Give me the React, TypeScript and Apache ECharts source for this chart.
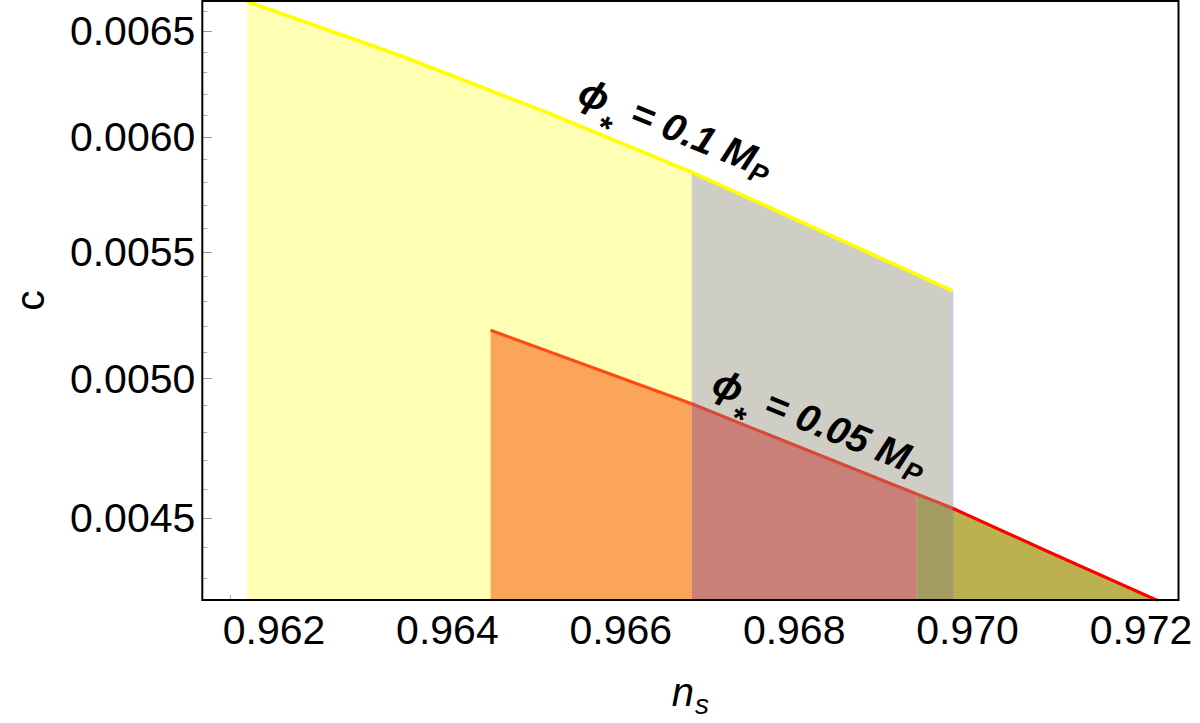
import React, { useEffect, useRef } from "react";
import * as echarts from "echarts";

const FONT = "'Liberation Sans', Arial, Helvetica, sans-serif";

// Axis ranges (n_s linear, c logarithmic)
const X_MIN = 0.961173;
const X_MAX = 0.972433;
const Y_MIN = 0.0042294;
const Y_MAX = 0.006651;

// Tick values
const X_TICKS = [0.962, 0.964, 0.966, 0.968, 0.97, 0.972];
const X_MINOR = [
  0.9615, 0.9625, 0.963, 0.9635, 0.9645, 0.965, 0.9655, 0.9665, 0.967, 0.9675,
  0.9685, 0.969, 0.9695, 0.9705, 0.971, 0.9715,
];
const Y_TICKS = [0.0045, 0.005, 0.0055, 0.006, 0.0065];
const Y_MINOR = [
  0.0043, 0.0044, 0.0046, 0.0047, 0.0048, 0.0049, 0.0051, 0.0052, 0.0053, 0.0054,
  0.0056, 0.0057, 0.0058, 0.0059, 0.0061, 0.0062, 0.0063, 0.0064, 0.0066,
];

// phi_* = 0.1 M_P curve
const NS_HIGH = [0.961689, 0.963453, 0.965183, 0.966818, 0.969828];
const C_HIGH = [0.006649, 0.0063825, 0.0061084, 0.0058442, 0.0053426];

// phi_* = 0.05 M_P curve
const NS_LOW = [0.964499, 0.966818, 0.968067, 0.969413, 0.969828, 0.970912, 0.972196];
const C_LOW = [0.0051857, 0.0049056, 0.0047466, 0.0045821, 0.0045329, 0.0043889, 0.0042273];

// n_s band edges where the shading changes
const BAND_START = 0.966818;
const BAND_SPLIT = 0.969413;
const BAND_END = 0.969828;

// horizontal reference level
const REF_C = 0.0053426;

// curve annotations
const LABEL_NS = [0.966637, 0.968298];
const LABEL_C = [0.0060423, 0.0048352];
const LABEL_VALUES = ["0.1", "0.05"];

const COLORS = {
  yellowFill: "#FFFFB3",
  grayFill: "#CECEC5",
  orangeFill: "#FBA55B",
  rosyFill: "#C98079",
  darkOliveFill: "#A29C5F",
  oliveFill: "#BBB24F",
  yellowLine: "#FFFF00",
  redLineLeft: "#FF4A14",
  redLineMid: "#D8493B",
  redLine: "#FF0000",
};

const pairs = (xs: number[], ys: number[]) => xs.map((x, i) => [x, ys[i]]);
const within = (pts: number[][], lo: number, hi: number) =>
  pts.filter((p) => p[0] >= lo - 1e-9 && p[0] <= hi + 1e-9);

const highPts = pairs(NS_HIGH, C_HIGH);
const lowPts = pairs(NS_LOW, C_LOW);
const lowAtEnd = C_LOW[NS_LOW.indexOf(BAND_END)];
const highAtEnd = C_HIGH[NS_HIGH.indexOf(BAND_END)];

const area = (data: number[][], color: string) => ({
  type: "line",
  data,
  symbol: "none",
  silent: true,
  lineStyle: { width: 0 },
  areaStyle: { color, opacity: 1, origin: "start" },
  z: 1,
});

const line = (data: number[][], color: string, width: number, z = 3) => ({
  type: "line",
  data,
  symbol: "none",
  silent: true,
  lineStyle: { color, width },
  z,
});

const tickLabel = {
  fontSize: 41,
  fontFamily: FONT,
  color: "#000",
};

function buildOption() {
  return {
    animation: false,
    backgroundColor: "#fff",
    grid: {
      left: 202.3,
      right: 21.5,
      top: 1,
      bottom: 118.7,
      show: true,
      borderColor: "#000",
      borderWidth: 2,
      backgroundColor: "transparent",
      z: 10,
    },
    xAxis: [
      {
        type: "value",
        min: X_MIN,
        max: X_MAX,
        position: "bottom",
        name: "{n|n}{s|s}",
        nameLocation: "middle",
        nameGap: 62,
        nameTextStyle: {
          rich: {
            n: { fontSize: 40, fontStyle: "italic", fontFamily: FONT, color: "#000", lineHeight: 60 },
            s: {
              fontSize: 28,
              fontStyle: "italic",
              fontFamily: FONT,
              color: "#000",
              lineHeight: 28,
              verticalAlign: "top",
              padding: [28, 0, 0, 1],
            },
          },
        },
        axisLine: { show: false },
        splitLine: { show: false },
        axisTick: {
          inside: true,
          length: 8,
          customValues: X_TICKS,
          lineStyle: { color: "#999", width: 1 },
        },
        axisLabel: {
          ...tickLabel,
          margin: 9,
          customValues: X_TICKS,
          formatter: (v: number) => v.toFixed(3),
        },
      },
      {
        type: "value",
        min: X_MIN,
        max: X_MAX,
        position: "bottom",
        axisLine: { show: false },
        splitLine: { show: false },
        axisLabel: { show: false },
        axisTick: {
          inside: true,
          length: 5,
          customValues: X_MINOR,
          lineStyle: { color: "#aaa", width: 1 },
        },
      },
    ],
    yAxis: [
      {
        type: "log",
        logBase: 10,
        min: Y_MIN,
        max: Y_MAX,
        position: "left",
        name: "c",
        nameLocation: "middle",
        nameGap: 152,
        nameTextStyle: { fontSize: 41, fontFamily: FONT, color: "#000" },
        axisLine: { show: false },
        splitLine: { show: false },
        axisTick: {
          inside: true,
          length: 10,
          customValues: Y_TICKS,
          lineStyle: { color: "#999", width: 1 },
        },
        axisLabel: {
          ...tickLabel,
          margin: 7,
          customValues: Y_TICKS,
          formatter: (v: number) => v.toFixed(4),
        },
      },
      {
        type: "log",
        logBase: 10,
        min: Y_MIN,
        max: Y_MAX,
        position: "left",
        axisLine: { show: false },
        splitLine: { show: false },
        axisLabel: { show: false },
        axisTick: {
          inside: true,
          length: 5,
          customValues: Y_MINOR,
          lineStyle: { color: "#aaa", width: 1 },
        },
      },
    ],
    series: [
      area(within(highPts, -Infinity, BAND_START), COLORS.yellowFill),
      area(within(highPts, BAND_START, BAND_END), COLORS.grayFill),
      area(within(lowPts, -Infinity, BAND_START), COLORS.orangeFill),
      area(within(lowPts, BAND_START, BAND_SPLIT), COLORS.rosyFill),
      area(within(lowPts, BAND_SPLIT, BAND_END), COLORS.darkOliveFill),
      area(within(lowPts, BAND_END, Infinity), COLORS.oliveFill),
      // edge of the shaded band
      line([[BAND_END, lowAtEnd], [BAND_END, highAtEnd]], "#C8C8F2", 1.5, 2),
      line([[BAND_END, Y_MIN], [BAND_END, lowAtEnd]], "#9C9A82", 1.5, 2),
      {
        ...line(highPts, COLORS.yellowLine, 3.6),
        markLine: {
          silent: true,
          symbol: "none",
          label: { show: false },
          lineStyle: { color: "#A8A8A8", width: 1, type: "solid" },
          data: [{ yAxis: REF_C }],
        },
      },
      line(within(lowPts, -Infinity, BAND_START), COLORS.redLineLeft, 3.2),
      line(within(lowPts, BAND_START, BAND_END), COLORS.redLineMid, 3.2),
      line(within(lowPts, BAND_END, Infinity), COLORS.redLine, 3.2),
    ],
  };
}

const labelRich = {
  m: {
    fontSize: 39,
    fontWeight: "bold",
    fontStyle: "italic",
    fontFamily: FONT,
    lineHeight: 60,
    fill: "#000",
  },
  st: {
    fontSize: 33,
    fontWeight: "bold",
    fontFamily: FONT,
    lineHeight: 12,
    verticalAlign: "top",
    padding: [40, 3, 0, 0],
    fill: "#000",
  },
  sb: {
    fontSize: 27,
    fontWeight: "bold",
    fontStyle: "italic",
    fontFamily: FONT,
    lineHeight: 26,
    verticalAlign: "top",
    padding: [28, 0, 0, 0],
    fill: "#000",
  },
};

export default function App() {
  const ref = useRef<HTMLDivElement>(null);

  useEffect(() => {
    if (!ref.current) return;
    const chart = echarts.init(ref.current, undefined, { renderer: "svg" });
    chart.setOption(buildOption());

    const graphic = LABEL_VALUES.map((value, i) => {
      const [px, py] = chart.convertToPixel({ xAxisIndex: 0, yAxisIndex: 0 }, [
        LABEL_NS[i],
        LABEL_C[i],
      ]) as number[];
      return {
        type: "text",
        x: px,
        y: py,
        rotation: (-22 * Math.PI) / 180,
        z: 20,
        style: {
          text: `{m|\u03D5}{st|*}{m| = ${value} M}{sb|P}`,
          rich: labelRich,
          align: "center",
          verticalAlign: "middle",
        },
      };
    });
    chart.setOption({ graphic });

    return () => chart.dispose();
  }, []);

  return (
    <div
      ref={ref}
      style={{ position: "fixed", left: 0, top: 0, width: 1200, height: 723, background: "#fff" }}
    />
  );
}
